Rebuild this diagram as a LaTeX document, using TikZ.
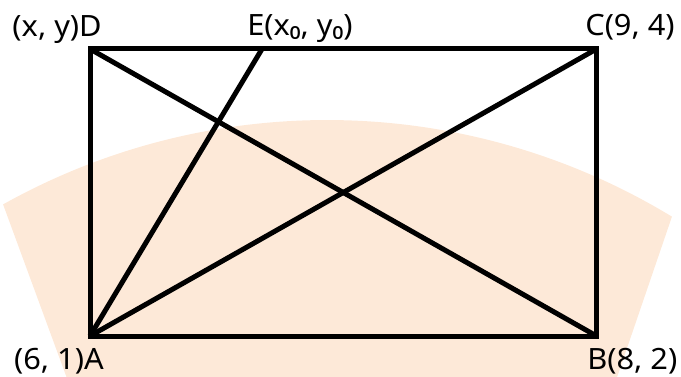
\documentclass[tikz,border=0pt]{standalone}
\usepackage{fontspec}
\newfontfamily\labfont{Noto Sans}
\usepackage{tikz}
\definecolor{ink}{HTML}{000000}
\definecolor{peach}{HTML}{FDE9D8}

\begin{document}
\begin{tikzpicture}[x=0.75pt,y=-0.75pt,
    edge/.style={ink,line width=3.75pt},
    lbl/.style={font=\labfont\fontsize{22}{24}\selectfont,inner sep=0pt,xscale=1.05,transform shape}]
  \useasboundingbox (0,0) rectangle (681,377);
  % pale band behind the figure
  \begin{scope}
    \clip (0,0) rectangle (681,377);
    \fill[peach] (327,784) ++(-119.2:664) arc[start angle=-119.2,end angle=-58.7,radius=664]
      -- (612,392) -- (72,392) -- cycle;
  \end{scope}
  \coordinate (A) at (90,336);
  \coordinate (B) at (596.5,336);
  \coordinate (C) at (596.5,49);
  \coordinate (D) at (90,49);
  \coordinate (E) at (262,49);
  \draw[edge] (A) -- (B) -- (C) -- (D) -- cycle;
  \draw[edge] (D) -- (B);
  \draw[edge] (A) -- (C);
  \draw[edge] (A) -- (E);
  \node[lbl,anchor=base east] (labD) at (102,37) {(x, y)D};
  \node[lbl,anchor=base west] (labE) at (247,36) {E(x₀, y₀)};
  \node[lbl,anchor=base west] (labC) at (585,36) {C(9, 4)};
  \node[lbl,anchor=base east] (labA) at (104,369) {(6, 1)A};
  \node[lbl,anchor=base west] (labB) at (587,369) {B(8, 2)};
\end{tikzpicture}
\end{document}
